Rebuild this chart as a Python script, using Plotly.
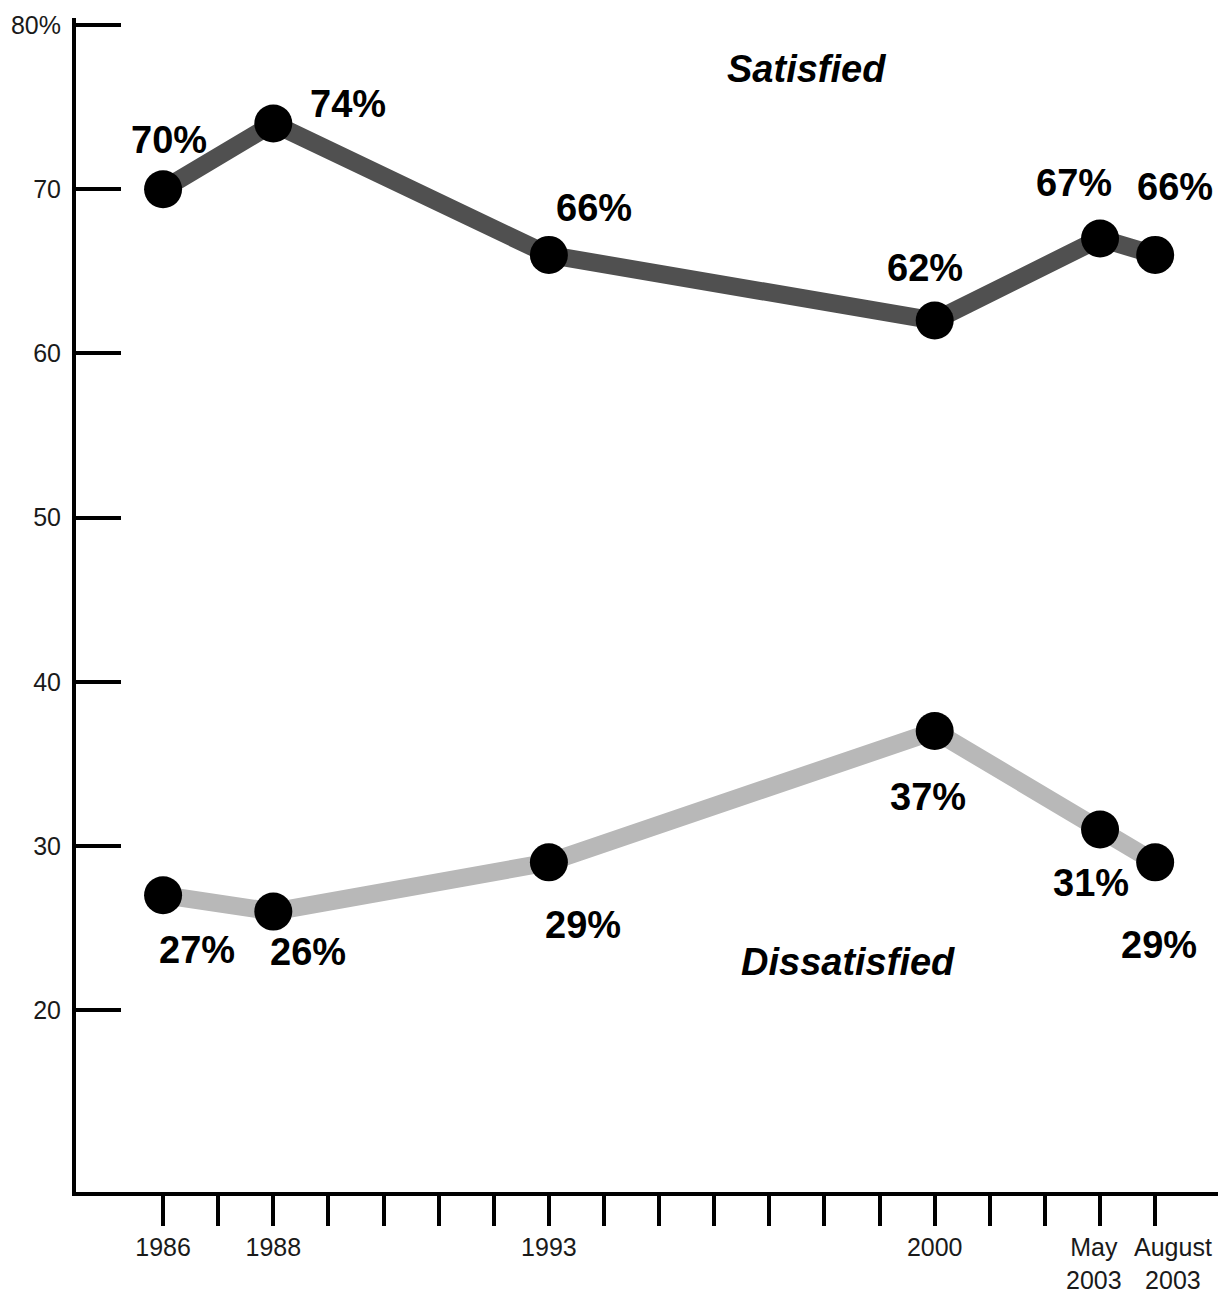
import plotly.graph_objects as go

# Survey waves (one slot per year on the axis, plus a second 2003 wave)
slot_labels = ["1986", "", "1988", "", "", "", "", "1993", "", "", "", "", "", "",
               "2000", "", "", "", ""]
wave_slots = [0, 2, 7, 14, 17, 18]

# The two 2003 waves sit on adjacent slots, so their labels are placed separately
late_slots = [17, 18]
late_labels = ["May<br>2003", "August<br>2003"]
late_shifts = [-6, 18]

satisfied = [70, 74, 66, 62, 67, 66]
dissatisfied = [27, 26, 29, 37, 31, 29]

# Label offsets (px) relative to each point
sat_offsets = [(6, 49), (75, 20), (45, 47), (-10, 53), (-26, 55), (20, 68)]
dis_offsets = [(34, -55), (35, -40), (34, -63), (-7, -66), (-9, -53), (4, -83)]

y_ticks = [20, 30, 40, 50, 60, 70, 80]
y_tick_text = ["20", "30", "40", "50", "60", "70", "80%"]

FAMILY = "Liberation Sans, Arial, sans-serif"
LABEL_FONT = dict(family=FAMILY, size=38, color="#000000")
TICK_FONT = dict(family=FAMILY, size=25, color="#1a1a1a")

fig = go.Figure()

fig.add_trace(go.Scatter(
    x=wave_slots, y=satisfied, mode="lines+markers", name="Satisfied",
    line=dict(color="#505050", width=18),
    marker=dict(color="#000000", size=38),
))
fig.add_trace(go.Scatter(
    x=wave_slots, y=dissatisfied, mode="lines+markers", name="Dissatisfied",
    line=dict(color="#b8b8b8", width=18),
    marker=dict(color="#000000", size=38),
))

annotations = []
for xs, vals, offs in ((wave_slots, satisfied, sat_offsets),
                       (wave_slots, dissatisfied, dis_offsets)):
    for x, v, (dx, dy) in zip(xs, vals, offs):
        annotations.append(dict(
            x=x, y=v, text=f"<b>{v}%</b>", showarrow=False,
            xshift=dx, yshift=dy, font=LABEL_FONT,
        ))

annotations.append(dict(x=11.67, y=77.3, text="<b><i>Satisfied</i></b>",
                        showarrow=False, font=LABEL_FONT))
annotations.append(dict(x=12.43, y=22.95, text="<b><i>Dissatisfied</i></b>",
                        showarrow=False, font=LABEL_FONT))

for x, txt, dx in zip(late_slots, late_labels, late_shifts):
    annotations.append(dict(
        x=x, xref="x", y=0, yref="paper", yanchor="top", yshift=-39,
        xshift=dx, text=txt, showarrow=False, align="center", font=TICK_FONT,
    ))

fig.update_layout(
    width=1226, height=1294,
    margin=dict(l=76, r=8, t=18, b=102),
    paper_bgcolor="#ffffff", plot_bgcolor="#ffffff",
    showlegend=False,
    annotations=annotations,
    font=dict(family=FAMILY, color="#1a1a1a"),
)

fig.update_xaxes(
    range=[-1.58, 19.14], automargin=False, tickangle=0,
    tickmode="array", tickvals=list(range(len(slot_labels))), ticktext=slot_labels,
    ticks="outside", ticklen=30, tickwidth=4, tickcolor="#000000",
    showline=True, linewidth=4, linecolor="#000000",
    showgrid=False, zeroline=False,
    tickfont=TICK_FONT,
)
fig.update_yaxes(
    range=[8.92, 80.43], automargin=False,
    tickmode="array", tickvals=y_ticks, ticktext=y_tick_text,
    ticks="inside", ticklen=45, tickwidth=4, tickcolor="#000000",
    showline=True, linewidth=4, linecolor="#000000",
    showgrid=False, zeroline=False,
    tickfont=TICK_FONT,
    ticklabelstandoff=6,
)

fig.write_html("out.html")
